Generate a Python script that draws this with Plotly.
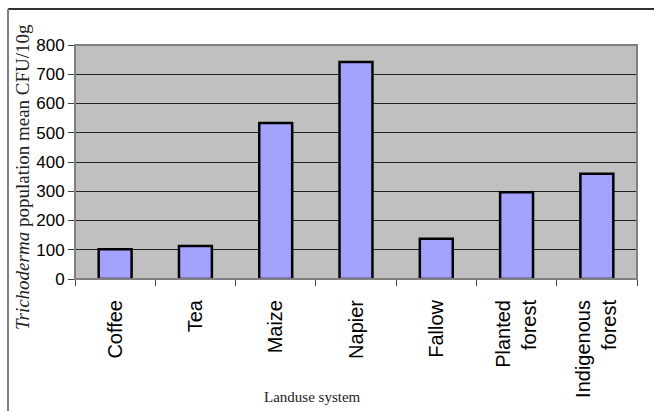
import plotly.graph_objects as go

categories = ["Coffee", "Tea", "Maize", "Napier", "Fallow", "Planted<br>forest", "Indigenous<br>forest"]
values = [102, 113, 533, 742, 138, 297, 360]
y_ticks = [0, 100, 200, 300, 400, 500, 600, 700, 800]

W, H = 654, 411
L, R, T, B = 75, 17, 45, 132
pw, ph = W - L - R, H - T - B

def px(x):
    return (x - L) / pw

def py(y):
    return (H - B - y) / ph

fig = go.Figure()
fig.add_trace(go.Bar(
    x=categories, y=values,
    marker=dict(color="#A3A3FF", line=dict(color="#000000", width=2.5)),
))

fig.update_layout(
    width=W, height=H,
    margin=dict(l=L, r=R, t=T, b=B),
    paper_bgcolor="white",
    plot_bgcolor="#C0C0C0",
    bargap=0.59,
    showlegend=False,
    xaxis=dict(
        type="category",
        tickangle=-90,
        ticks="outside", ticklen=6, tickcolor="#404040",
        tickson="boundaries",
        showline=True, linecolor="#404040", linewidth=1,
        showgrid=False,
        tickfont=dict(family="Liberation Sans, Arial", size=20, color="black"),
        ticklabelstandoff=12,
    ),
    yaxis=dict(
        range=[0, 800],
        tickvals=y_ticks,
        ticks="outside", ticklen=6, tickcolor="#404040",
        showline=True, linecolor="#404040", linewidth=1,
        showgrid=True, gridcolor="#202020", gridwidth=1,
        zeroline=False,
        tickfont=dict(family="Liberation Sans, Arial", size=17, color="black"),
    ),
    shapes=[
        dict(type="rect", xref="paper", yref="paper", x0=0, x1=1, y0=0, y1=1,
             line=dict(color="#808080", width=2), layer="above"),
        dict(type="line", xref="paper", yref="paper", x0=px(8), x1=px(654), y0=py(9), y1=py(9),
             line=dict(color="#333333", width=2)),
        dict(type="line", xref="paper", yref="paper", x0=px(8), x1=px(8), y0=py(9), y1=py(411),
             line=dict(color="#808080", width=2)),
    ],
    annotations=[
        dict(text="<i>Trichoderma</i> population mean CFU/10g", xref="paper", yref="paper",
             x=px(22), y=py(177), xanchor="center", yanchor="middle", textangle=-90,
             showarrow=False, font=dict(family="Liberation Serif, Times New Roman", size=19, color="#222")),
        dict(text="Landuse system", xref="paper", yref="paper",
             x=px(312), y=py(397), xanchor="center", yanchor="middle",
             showarrow=False, font=dict(family="Liberation Serif, Times New Roman", size=15, color="#222")),
    ],
)

fig.write_html("out.html")
